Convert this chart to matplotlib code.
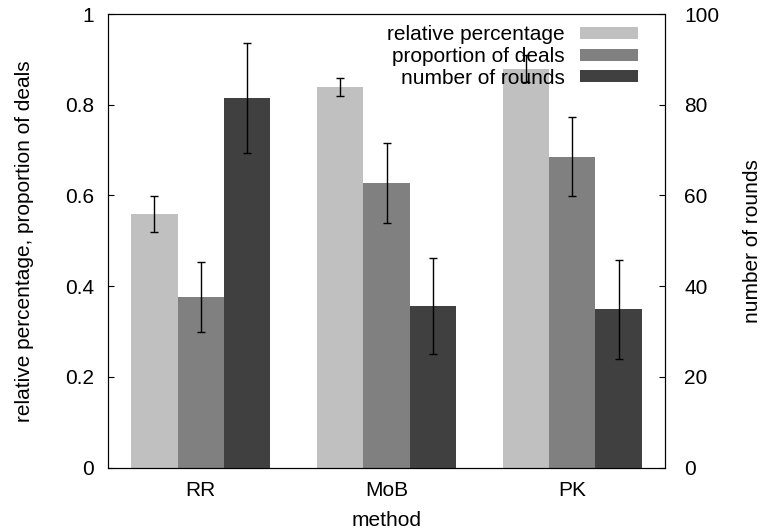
import numpy as np
import matplotlib.pyplot as plt

plt.rcParams['font.family'] = ['Liberation Sans', 'DejaVu Sans']

# données
methods = ['RR', 'MoB', 'PK']
rel_pct = [0.559, 0.839, 0.879]
rel_pct_err = [0.040, 0.020, 0.030]
prop_deals = [0.376, 0.627, 0.685]
prop_deals_err = [0.077, 0.088, 0.087]
n_rounds = [81.5, 35.6, 34.9]
n_rounds_err = [12.2, 10.6, 10.9]

colors = ['#c0c0c0', '#808080', '#404040']
w = 0.25
x = np.arange(len(methods))
fs = 15

fig = plt.figure(figsize=(7.64, 5.31), dpi=100)
ax = fig.add_axes([108/764, 1 - 467.5/531, 557/764, 453.5/531])
ax2 = ax.twinx()

ekw = dict(ecolor='black', elinewidth=1, capsize=3, capthick=1)
b1 = ax.bar(x - w, rel_pct, w, color=colors[0], yerr=rel_pct_err, error_kw=ekw,
            label='relative percentage')
b2 = ax.bar(x, prop_deals, w, color=colors[1], yerr=prop_deals_err, error_kw=ekw,
            label='proportion of deals')
b3 = ax2.bar(x + w, n_rounds, w, color=colors[2], yerr=n_rounds_err, error_kw=ekw,
             label='number of rounds')

ax.set_xlim(-0.5, 2.5)
ax.set_ylim(0, 1)
ax2.set_ylim(0, 100)

ax.set_xticks(x)
ax.set_xticklabels(methods)
ax.set_yticks([0, 0.2, 0.4, 0.6, 0.8, 1])
ax.set_yticklabels(['0', '0.2', '0.4', '0.6', '0.8', '1'])
ax2.set_yticks([0, 20, 40, 60, 80, 100])

ax.tick_params(axis='x', length=0, pad=10, labelsize=fs)
ax.tick_params(axis='y', direction='in', length=4, pad=10, labelsize=fs)
ax2.tick_params(axis='y', direction='in', length=4, pad=14, labelsize=fs)

ax.set_xlabel('method', fontsize=fs, labelpad=7.5)
ax.set_ylabel('relative percentage, proportion of deals', fontsize=fs, labelpad=22)
ax2.set_ylabel('number of rounds', fontsize=fs, labelpad=17)

ax2.legend(handles=[b1, b2, b3], loc='upper right', frameon=False,
           markerfirst=False, bbox_to_anchor=((638 - 108) / 557, 0.975),
           borderpad=0, borderaxespad=0, handlelength=2.8, handleheight=0.5,
           handletextpad=0.72, labelspacing=0.13, fontsize=fs)

plt.savefig('out.png')
